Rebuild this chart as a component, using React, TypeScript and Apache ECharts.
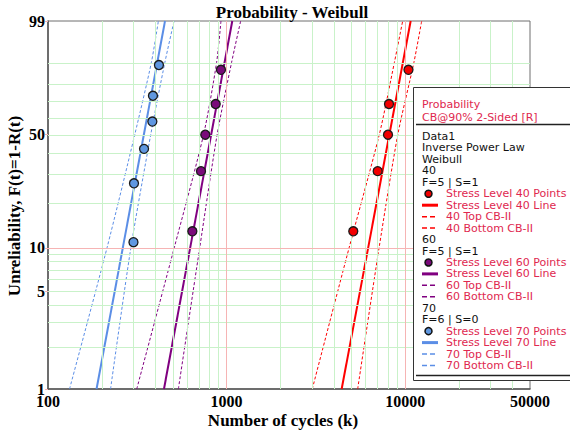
import React, { useEffect, useRef } from "react";
import * as echarts from "echarts";

// Unreliability (%) of the plotted failures: median ranks
const ranks5 = [12.96, 31.48, 50, 68.52, 87.04];
const ranks6 = [10.94, 26.56, 42.19, 57.81, 73.44, 89.06];

// Failure times (k cycles) for each stress level
const times40 = [5122, 7015, 8013, 8117, 10435];
const times60 = [643, 719, 760, 869, 930];
const times70 = [301, 303, 345, 384, 387, 418];

// Fitted Weibull lines: times at 1% and 99% unreliability
const lineF = [1, 99];
const line40 = [4411, 10735];
const line60 = [446, 1076];
const line70 = [187, 452];

// Two-sided 90% confidence bounds (type II), sampled at these unreliabilities
const boundF = [1, 10, 50, 90, 99];
const top40 = [3019, 4852, 7161, 8697, 9683];
const bottom40 = [5420, 7143, 9091, 11186, 12373];
const top60 = [314, 509, 743, 879, 930];
const bottom60 = [537, 707, 885, 1066, 1199];
const top70 = [132, 214, 306, 379, 415];
const bottom70 = [224, 291, 376, 451, 508];

// Axis ticks and grid
const xTicks = [100, 1000, 10000, 50000];
const yTicks = [1, 5, 10, 50, 99];
const xMinorGrid = [200, 300, 400, 500, 600, 700, 800, 900, 2000, 3000, 4000, 5000, 6000, 7000, 8000, 9000, 20000, 30000, 40000];
const xMajorGrid = [1000, 10000];
const yMinorGrid = [2, 3, 4, 5, 6, 7, 8, 9, 20, 30, 40, 50, 60, 70, 80, 90];
const yMajorGrid = [10];

// Legend texts
const legendHeader = ["Probability", "CB@90% 2-Sided [R]"];
const legendInfo = ["Data1", "Inverse Power Law", "Weibull"];
const stressLevels = ["40", "60", "70"];
const stressCounts = ["F=5 | S=1", "F=5 | S=1", "F=6 | S=0"];

// Weibull probability-paper transform
const weib = (f: number) => Math.log(-Math.log(1 - f / 100));
const unweib = (y: number) => 100 * (1 - Math.exp(-Math.exp(y)));

const levels = [
  { s: stressLevels[0], count: stressCounts[0], color: "#ff0000", fill: "#f20000", times: times40, ranks: ranks5, line: line40, top: top40, bottom: bottom40 },
  { s: stressLevels[1], count: stressCounts[1], color: "#800080", fill: "#7a0a7a", times: times60, ranks: ranks5, line: line60, top: top60, bottom: bottom60 },
  { s: stressLevels[2], count: stressCounts[2], color: "#5b8ee6", fill: "#5f97e0", times: times70, ranks: ranks6, line: line70, top: top70, bottom: bottom70 },
];

const GREEN = "#c9f2c9";
const PINK = "#f6b4b4";
const LEGEND_RED = "#e0284f";
const SERIF = "'Liberation Serif', 'Times New Roman', serif";
const SANS = "'DejaVu Sans', Verdana, sans-serif";

function buildLegend() {
  const els: any[] = [];
  const x0 = 422;
  const xText = 446;
  els.push({
    type: "rect",
    shape: { x: 413.5, y: 87.5, width: 170, height: 293 },
    style: { fill: "#ffffff", stroke: "#333333", lineWidth: 1 },
    z: 100,
  });
  const txt = (text: string, x: number, y: number, fill: string) => ({
    type: "text",
    x,
    y,
    z: 101,
    style: { text, fill, font: `11px ${SANS}`, lineHeight: 11, textAlign: "left", textVerticalAlign: "middle" },
  });
  els.push(txt(legendHeader[0], x0, 104, LEGEND_RED));
  els.push(txt(legendHeader[1], x0, 117, LEGEND_RED));
  els.push({ type: "line", z: 101, shape: { x1: 416, y1: 124.5, x2: 572, y2: 124.5 }, style: { stroke: "#222", lineWidth: 1.5 } });
  let y = 136.5;
  const step = 11.45;
  legendInfo.forEach((t) => {
    els.push(txt(t, x0, y, "#111"));
    y += step;
  });
  levels.forEach((lv) => {
    els.push(txt(lv.s, x0, y, "#111"));
    y += step;
    els.push(txt(lv.count, x0, y, "#111"));
    y += step;
    // points
    els.push({ type: "circle", z: 101, shape: { cx: 428.5, cy: y, r: 3.5 }, style: { fill: lv.fill, stroke: "#111", lineWidth: 1.5 } });
    els.push(txt(`Stress Level ${lv.s} Points`, xText, y, LEGEND_RED));
    y += step;
    // fitted line
    els.push({ type: "line", z: 101, shape: { x1: 422, y1: y, x2: 438, y2: y }, style: { stroke: lv.color, lineWidth: 3 } });
    els.push(txt(`Stress Level ${lv.s} Line`, xText, y, LEGEND_RED));
    y += step;
    // bounds
    ["Top", "Bottom"].forEach((k) => {
      els.push({ type: "line", z: 101, shape: { x1: 422, y1: y, x2: 438, y2: y }, style: { stroke: lv.color, lineWidth: 1.5, lineDash: [5, 3] } });
      els.push(txt(`${lv.s} ${k} CB-II`, xText, y, LEGEND_RED));
      y += step;
    });
  });
  els.push({ type: "line", z: 101, shape: { x1: 416, y1: 375.5, x2: 572, y2: 375.5 }, style: { stroke: "#222", lineWidth: 1.5 } });
  return els;
}

function buildOption() {
  const series: any[] = [];
  // grid lines
  series.push({
    type: "line",
    name: "grid",
    data: [],
    z: 1,
    silent: true,
    markLine: {
      silent: true,
      symbol: ["none", "none"],
      label: { show: false },
      animation: false,
      lineStyle: { color: GREEN, width: 1, type: "solid" },
      data: [
        ...xMinorGrid.map((v) => ({ xAxis: v })),
        ...yMinorGrid.map((f) => ({ yAxis: weib(f) })),
        ...xMajorGrid.map((v) => ({ xAxis: v, lineStyle: { color: PINK, width: 1, type: "solid" } })),
        ...yMajorGrid.map((f) => ({ yAxis: weib(f), lineStyle: { color: PINK, width: 1, type: "solid" } })),
      ],
    },
  });
  levels.forEach((lv) => {
    series.push({
      type: "line",
      name: `${lv.s} Top CB-II`,
      data: lv.top.map((t, i) => [t, weib(boundF[i])]),
      showSymbol: false,
      smooth: 0.25,
      z: 3,
      lineStyle: { color: lv.color, width: 1, type: [3, 2] },
    });
    series.push({
      type: "line",
      name: `${lv.s} Bottom CB-II`,
      data: lv.bottom.map((t, i) => [t, weib(boundF[i])]),
      showSymbol: false,
      smooth: 0.25,
      z: 3,
      lineStyle: { color: lv.color, width: 1, type: [3, 2] },
    });
    series.push({
      type: "line",
      name: `Stress Level ${lv.s} Line`,
      data: lv.line.map((t, i) => [t, weib(lineF[i])]),
      showSymbol: false,
      z: 4,
      lineStyle: { color: lv.color, width: 2 },
    });
    series.push({
      type: "scatter",
      name: `Stress Level ${lv.s} Points`,
      data: lv.times.map((t, i) => [t, weib(lv.ranks[i])]),
      symbol: "circle",
      symbolSize: 9,
      z: 5,
      itemStyle: { color: lv.fill, borderColor: "#1a1a1a", borderWidth: 1.3, opacity: 1 },
    });
  });

  return {
    animation: false,
    backgroundColor: "#ffffff",
    grid: { left: 48, top: 21, right: 40, bottom: 45, show: true, borderColor: "#6e6e6e", borderWidth: 1, backgroundColor: "#ffffff" },
    xAxis: {
      type: "log",
      logBase: 10,
      min: 100,
      max: 50000,
      axisLine: { show: true, onZero: false, lineStyle: { color: "#555", width: 1.5 } },
      axisTick: { show: false },
      splitLine: { show: false },
      minorSplitLine: { show: false },
      axisLabel: {
        customValues: xTicks,
        formatter: (v: number) => String(Math.round(v)),
        color: "#000",
        fontFamily: SERIF,
        fontWeight: "bold",
        fontSize: 16,
        margin: 4,
        showMinLabel: true,
        showMaxLabel: true,
      },
    },
    yAxis: {
      type: "value",
      min: weib(1),
      max: weib(99),
      axisLine: { show: true, onZero: false, lineStyle: { color: "#555", width: 1.5 } },
      axisTick: { show: true, customValues: yTicks.map(weib), length: 3, inside: false, lineStyle: { color: PINK } },
      splitLine: { show: false },
      axisLabel: {
        customValues: yTicks.map(weib),
        formatter: (v: number) => String(Math.round(unweib(v))),
        color: "#000",
        fontFamily: SERIF,
        fontWeight: "bold",
        fontSize: 16,
        margin: 3,
        showMinLabel: true,
        showMaxLabel: true,
      },
    },
    series,
    graphic: [
      {
        type: "text",
        x: 292,
        y: 12,
        style: { text: "Probability - Weibull", fill: "#000", font: `bold 17px ${SERIF}`, textAlign: "center", textVerticalAlign: "middle" },
      },
      {
        type: "text",
        x: 283,
        y: 420,
        style: { text: "Number of cycles (k)", fill: "#000", font: `bold 17px ${SERIF}`, textAlign: "center", textVerticalAlign: "middle" },
      },
      {
        type: "text",
        x: 14,
        y: 206,
        rotation: Math.PI / 2,
        style: { text: "Unreliability, F(t)=1-R(t)", fill: "#000", font: `bold 17px ${SERIF}`, textAlign: "center", textVerticalAlign: "middle" },
      },
      ...buildLegend(),
    ],
  };
}

export default function App() {
  const ref = useRef<HTMLDivElement>(null);
  useEffect(() => {
    if (!ref.current) return;
    const chart = echarts.init(ref.current, undefined, { renderer: "svg" });
    chart.setOption(buildOption() as any);
    return () => chart.dispose();
  }, []);
  return <div ref={ref} style={{ position: "absolute", left: 0, top: 0, width: 570, height: 434 }} />;
}
